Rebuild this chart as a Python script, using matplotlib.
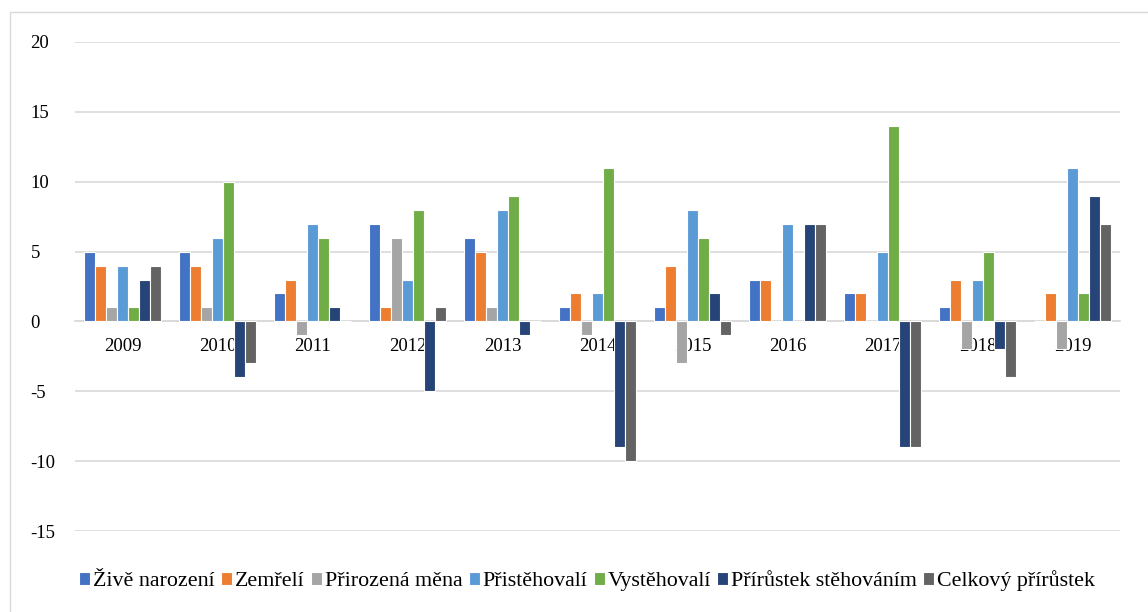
import numpy as np
import matplotlib.pyplot as plt
from matplotlib.patches import Rectangle

years = ['2009', '2010', '2011', '2012', '2013', '2014', '2015', '2016', '2017', '2018', '2019']

zive_narozeni = [5, 5, 2, 7, 6, 1, 1, 3, 2, 1, 0]
zemreli = [4, 4, 3, 1, 5, 2, 4, 3, 2, 3, 2]
prirozena_mena = [1, 1, -1, 6, 1, -1, -3, 0, 0, -2, -2]
pristehovali = [4, 6, 7, 3, 8, 2, 8, 7, 5, 3, 11]
vystehovali = [1, 10, 6, 8, 9, 11, 6, 0, 14, 5, 2]
prirustek_stehovanim = [3, -4, 1, -5, -1, -9, 2, 7, -9, -2, 9]
celkovy_prirustek = [4, -3, 0, 1, 0, -10, -1, 7, -9, -4, 7]

series = [
    ('Živě narození', zive_narozeni, '#4472C4'),
    ('Zemřelí', zemreli, '#ED7D31'),
    ('Přirozená měna', prirozena_mena, '#A5A5A5'),
    ('Přistěhovalí', pristehovali, '#5B9BD5'),
    ('Vystěhovalí', vystehovali, '#70AD47'),
    ('Přírůstek stěhováním', prirustek_stehovanim, '#264478'),
    ('Celkový přírůstek', celkovy_prirustek, '#636363'),
]

plt.rcParams['font.family'] = ['Liberation Serif', 'DejaVu Serif']
plt.rcParams['axes.unicode_minus'] = False

fig = plt.figure(figsize=(11.48, 6.12), dpi=100)
ax = fig.add_axes([75 / 1148, 1 - 531 / 612, 1045 / 1148, 489 / 612])

# light chart border like Excel
fig.patches.append(Rectangle((10 / 1148, -0.05), 1.2, 1 - 12 / 612 + 0.05,
                             transform=fig.transFigure, fill=False,
                             edgecolor='#D9D9D9', linewidth=1))

x = np.arange(len(years))
w = 0.116
for i, (name, vals, col) in enumerate(series):
    ax.bar(x + (i - 3) * w, vals, w, color=col, edgecolor='white',
           linewidth=0.8, label=name, zorder=3)

ax.set_ylim(-15, 20)
ax.set_xlim(-0.5, len(years) - 0.5)
ax.set_yticks(range(-15, 21, 5))
ax.set_xticks(x)
ax.set_xticklabels(years, fontfamily='Liberation Serif')
ax.tick_params(axis='y', labelsize=13.5, length=0, pad=32)
ax.tick_params(axis='x', labelsize=13.5, length=0, pad=12)
ax.yaxis.grid(True, color='#D9D9D9', linewidth=1.2, zorder=0)
ax.set_axisbelow(True)
for lbl in ax.get_yticklabels():
    lbl.set_horizontalalignment('left')
    lbl.set_fontfamily('Liberation Serif')

for s in ['top', 'right', 'left']:
    ax.spines[s].set_visible(False)
ax.spines['bottom'].set_position(('data', 0))
ax.spines['bottom'].set_color('#D9D9D9')
ax.spines['bottom'].set_linewidth(1.2)
ax.spines['bottom'].set_zorder(1)

ax.legend(loc='center', bbox_to_anchor=(0.49, (1 - 581 / 612 - (1 - 531 / 612)) / (489 / 612)),
          ncol=7, frameon=False, prop={'family': 'Liberation Serif', 'size': 15.8},
          handlelength=0.5, handleheight=0.5, handletextpad=0.12, columnspacing=0.3)

fig.savefig('out.png', dpi=100)
